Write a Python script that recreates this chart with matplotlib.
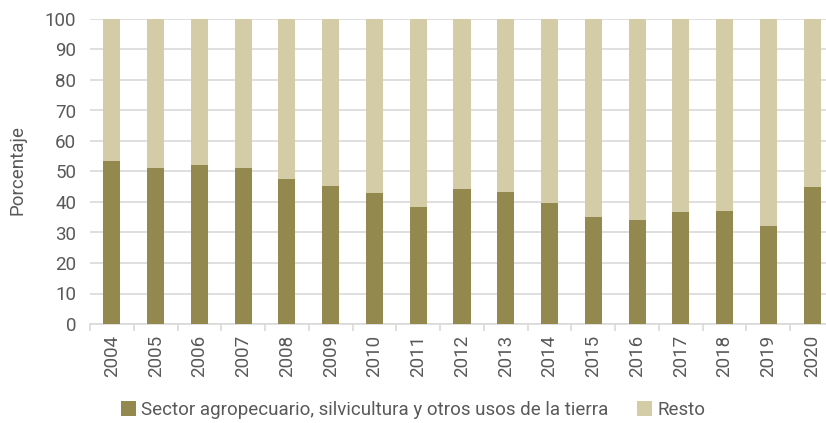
import numpy as np
import matplotlib
matplotlib.use("Agg")
import matplotlib.pyplot as plt
from matplotlib.patches import Patch

plt.rcParams['font.family'] = ['Roboto', 'DejaVu Sans']

# share of total (%) per year
years = ['2004', '2005', '2006', '2007', '2008', '2009', '2010', '2011', '2012',
         '2013', '2014', '2015', '2016', '2017', '2018', '2019', '2020']
agro = [53.4, 51.3, 52.2, 51.0, 47.4, 45.1, 43.1, 38.4, 44.4,
        43.4, 39.6, 35.0, 34.2, 36.7, 36.9, 32.0, 44.8]
resto = [100 - v for v in agro]

c_agro = '#93894e'
c_resto = '#d4cba7'
c_text = '#595959'
c_grid = '#d9d9d9'

fig = plt.figure(figsize=(8.26, 4.23), dpi=100)
ax = fig.add_axes([90 / 826, 99 / 423, 744 / 826, 305 / 423])

x = np.arange(len(years))
ax.bar(x, agro, width=0.39, color=c_agro, zorder=3)
ax.bar(x, resto, width=0.39, bottom=agro, color=c_resto, zorder=3)

ax.set_xlim(-0.5, len(years) - 0.5)
ax.set_ylim(0, 100)
ax.set_yticks(range(0, 101, 10))
ax.yaxis.grid(True, color=c_grid, linewidth=1.2, zorder=0)
ax.set_xticks(x)
ax.set_xticklabels(years, rotation=90)
# category separators on the x axis
ax.set_xticks(np.arange(-0.5, len(years), 1), minor=True)
ax.tick_params(axis='x', which='major', length=0, pad=8, labelsize=13.5, colors=c_text)
ax.tick_params(axis='x', which='minor', length=5, color=c_grid, width=1.2)
ax.tick_params(axis='y', length=0, pad=10, labelsize=13.5, colors=c_text)

for s in ['top', 'right', 'left']:
    ax.spines[s].set_visible(False)
ax.spines['bottom'].set_color(c_grid)
ax.spines['bottom'].set_linewidth(1.2)

fig.text(18 / 826, 1 - 170 / 423, 'Porcentaje', rotation=90, ha='center', va='center',
         fontsize=13.5, color=c_text)

handles = [Patch(facecolor=c_agro, label='Sector agropecuario, silvicultura y otros usos de la tierra'),
           Patch(facecolor=c_resto, label='Resto')]
fig.legend(handles=handles, loc='center', bbox_to_anchor=(0.5, 1 - 410 / 423), ncol=2,
           frameon=False, fontsize=13.5, labelcolor=c_text, handlelength=0.8,
           handleheight=0.8, handletextpad=0.3, columnspacing=1.5)

fig.savefig('out.png', dpi=100)
